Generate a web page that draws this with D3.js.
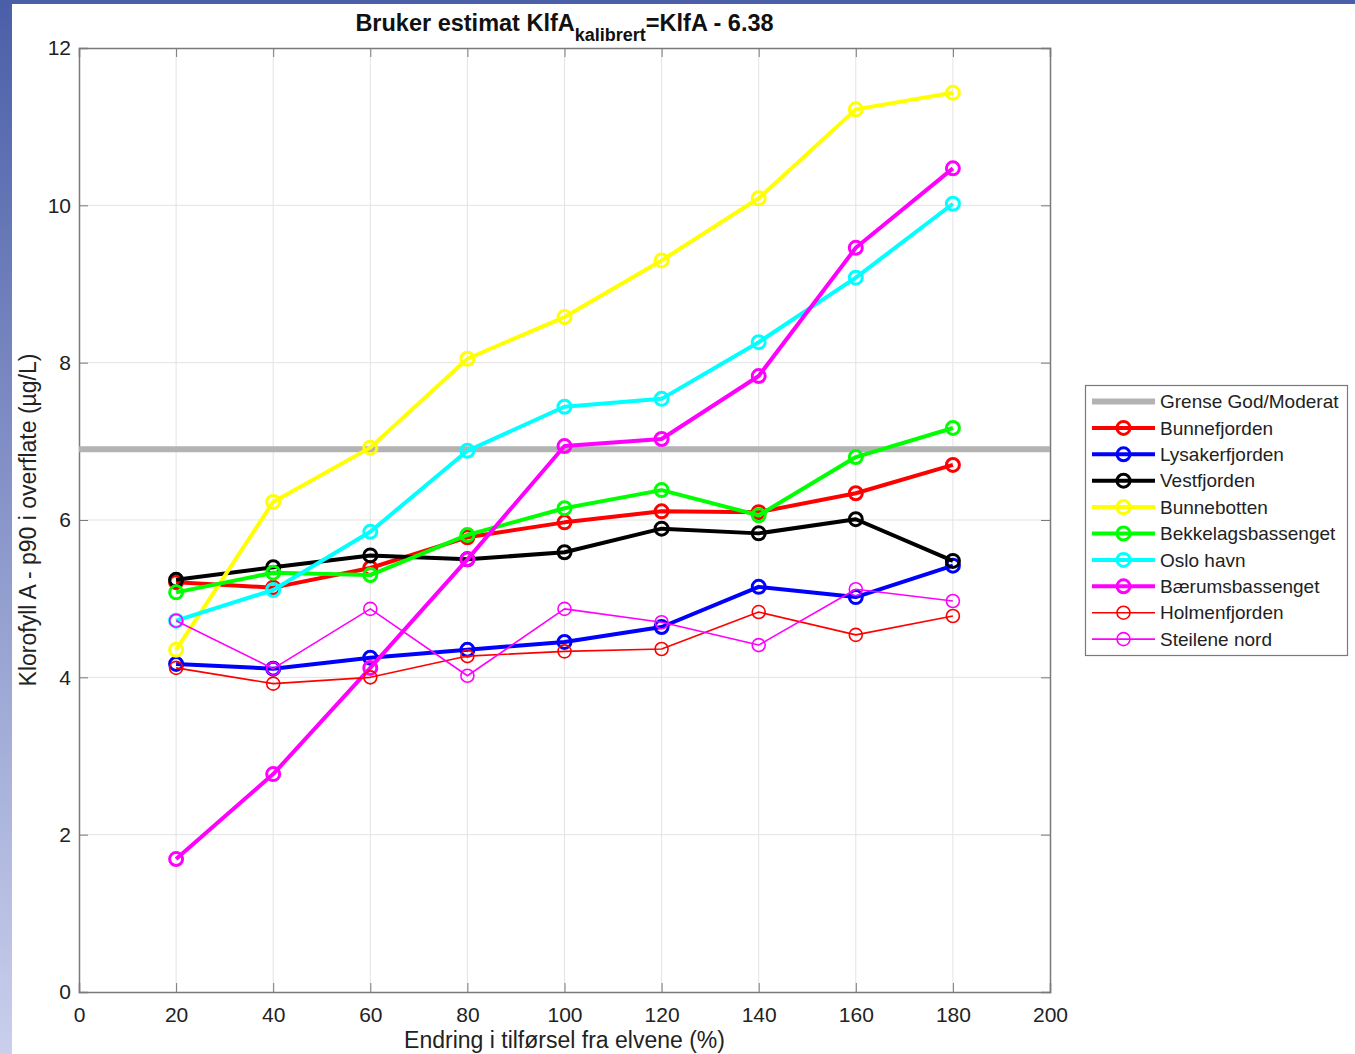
<!DOCTYPE html>
<html><head><meta charset="utf-8">
<script src="https://cdn.jsdelivr.net/npm/d3@7"></script>
<style>body{margin:0;overflow:hidden;font-family:"Liberation Sans",Arial,sans-serif}</style>
</head><body><svg id="c" width="1355" height="1054"></svg>
<script>
const xValues = [20, 40, 60, 80, 100, 120, 140, 160, 180];
const xTicks = [0, 20, 40, 60, 80, 100, 120, 140, 160, 180, 200];
const yTicks = [0, 2, 4, 6, 8, 10, 12];
const grenseValue = 6.9;
const seriesNames = ["Bunnefjorden","Lysakerfjorden","Vestfjorden","Bunnebotten","Bekkelagsbassenget","Oslo havn","Bærumsbassenget","Holmenfjorden","Steilene nord"];
const seriesColors = ["#ff0000","#0000ff","#000000","#ffff00","#00ff00","#00ffff","#ff00ff","#ff0000","#ff00ff"];
const seriesThick = [true,true,true,true,true,true,true,false,false];
const bunnefjorden = [5.21,5.14,5.39,5.78,5.97,6.11,6.10,6.34,6.70];
const lysakerfjorden = [4.17,4.11,4.25,4.35,4.45,4.64,5.15,5.02,5.42];
const vestfjorden = [5.24,5.40,5.55,5.50,5.59,5.89,5.83,6.01,5.48];
const bunnebotten = [4.35,6.23,6.92,8.05,8.58,9.30,10.09,11.22,11.43];
const bekkelagsbassenget = [5.08,5.33,5.30,5.81,6.15,6.38,6.06,6.80,7.17];
const osloHavn = [4.72,5.11,5.85,6.88,7.44,7.54,8.26,9.08,10.02];
const baerumsbassenget = [1.69,2.77,4.12,5.50,6.94,7.03,7.83,9.46,10.47];
const holmenfjorden = [4.12,3.92,4.00,4.27,4.33,4.36,4.83,4.54,4.78];
const steileneNord = [4.72,4.11,4.87,4.02,4.87,4.70,4.41,5.12,4.97];
const seriesValues = [bunnefjorden,lysakerfjorden,vestfjorden,bunnebotten,bekkelagsbassenget,osloHavn,baerumsbassenget,holmenfjorden,steileneNord];

const svg = d3.select("#c");
// slide background
const defs = svg.append("defs");
const g = defs.append("linearGradient").attr("id","bg").attr("x1",0).attr("y1",0).attr("x2",0).attr("y2",1);
g.append("stop").attr("offset","0%").attr("stop-color","#4b5fa8");
g.append("stop").attr("offset","100%").attr("stop-color","#c9cfec");
svg.append("rect").attr("width",1355).attr("height",1054).attr("fill","url(#bg)");
svg.append("rect").attr("x",12).attr("y",4).attr("width",1343).attr("height",1050).attr("fill","#fff");

const L=79, R=1050, T=48, B=992;
const x = d3.scaleLinear().domain([0,200]).range([L,R]);
const y = d3.scaleLinear().domain([0,12]).range([B,T]);

// grid
svg.append("g").selectAll("line").data(xTicks.slice(1,-1)).join("line")
  .attr("x1",d=>x(d)).attr("x2",d=>x(d)).attr("y1",T).attr("y2",B).attr("stroke","#e3e3e3").attr("stroke-width",1);
svg.append("g").selectAll("line").data(yTicks.slice(1,-1)).join("line")
  .attr("y1",d=>y(d)).attr("y2",d=>y(d)).attr("x1",L).attr("x2",R).attr("stroke","#e3e3e3").attr("stroke-width",1);

// axes
const axCol = "#7a7a7a";
const xb = svg.append("g").attr("transform",`translate(0,${B})`).call(d3.axisBottom(x).tickValues(xTicks).tickSize(-9).tickPadding(15));
const xt = svg.append("g").attr("transform",`translate(0,${T})`).call(d3.axisTop(x).tickValues(xTicks).tickSize(-9).tickFormat(""));
const yl = svg.append("g").attr("transform",`translate(${L},0)`).call(d3.axisLeft(y).tickValues(yTicks).tickSize(-9).tickPadding(8));
const yr = svg.append("g").attr("transform",`translate(${R},0)`).call(d3.axisRight(y).tickValues(yTicks).tickSize(-9).tickFormat(""));
[xb,xt,yl,yr].forEach(a=>{
  a.selectAll("path").attr("stroke",axCol).attr("stroke-width",1.5);
  a.selectAll("line").attr("stroke",axCol).attr("stroke-width",1);
  a.selectAll("text").attr("fill","#222").style("font-size","21px").style("font-family","'Liberation Sans',Arial,sans-serif");
});
xb.selectAll("text").attr("dy","0.71em");

// grense line
svg.append("line").attr("x1",L).attr("x2",R).attr("y1",y(grenseValue)).attr("y2",y(grenseValue))
  .attr("stroke","#b3b3b3").attr("stroke-width",6);

const line = d3.line().x((d,i)=>x(xValues[i])).y(d=>y(d));
seriesValues.forEach((vals,k)=>{
  const sw = seriesThick[k]?4:1.6;
  const gg = svg.append("g");
  gg.append("path").datum(vals).attr("d",line).attr("fill","none").attr("stroke",seriesColors[k]).attr("stroke-width",sw).attr("stroke-linejoin","round");
  gg.selectAll("circle").data(vals).join("circle").attr("cx",(d,i)=>x(xValues[i])).attr("cy",d=>y(d))
    .attr("r",6.5).attr("fill","none").attr("stroke",seriesColors[k]).attr("stroke-width",seriesThick[k]?3:1.6);
});

// title
const title = svg.append("text").attr("x",(L+R)/2).attr("y",31).attr("text-anchor","middle")
  .style("font-size","23.5px").style("font-weight","bold").attr("fill","#111");
title.append("tspan").text("Bruker estimat KlfA");
title.append("tspan").attr("dy",10).style("font-size","18px").text("kalibrert");
title.append("tspan").attr("dy",-10).text("=KlfA - 6.38");

// axis labels
svg.append("text").attr("x",(L+R)/2).attr("y",1048).attr("text-anchor","middle").style("font-size","23px").attr("fill","#222")
  .text("Endring i tilførsel fra elvene (%)");
svg.append("text").attr("transform",`translate(36,${(T+B)/2}) rotate(-90)`).attr("text-anchor","middle").style("font-size","23px").attr("fill","#222")
  .text("Klorofyll A - p90 i overflate (µg/L)");

// legend
const lg = svg.append("g");
lg.append("rect").attr("x",1085.5).attr("y",385.5).attr("width",262).attr("height",270).attr("fill","#fff").attr("stroke","#7a7a7a").attr("stroke-width",1.2);
const legNames = ["Grense God/Moderat"].concat(seriesNames);
legNames.forEach((n,i)=>{
  const yy = 401.5 + i*26.4;
  if(i===0){
    lg.append("line").attr("x1",1092).attr("x2",1155).attr("y1",yy).attr("y2",yy).attr("stroke","#b3b3b3").attr("stroke-width",6);
  } else {
    const k=i-1, sw=seriesThick[k]?4:1.6;
    lg.append("line").attr("x1",1092).attr("x2",1155).attr("y1",yy).attr("y2",yy).attr("stroke",seriesColors[k]).attr("stroke-width",sw);
    lg.append("circle").attr("cx",1123.5).attr("cy",yy).attr("r",6.5).attr("fill","none").attr("stroke",seriesColors[k]).attr("stroke-width",seriesThick[k]?3:1.6);
  }
  lg.append("text").attr("x",1160).attr("y",yy).attr("dy","0.35em").style("font-size","19px").attr("fill","#222").text(n);
});
</script></body></html>
